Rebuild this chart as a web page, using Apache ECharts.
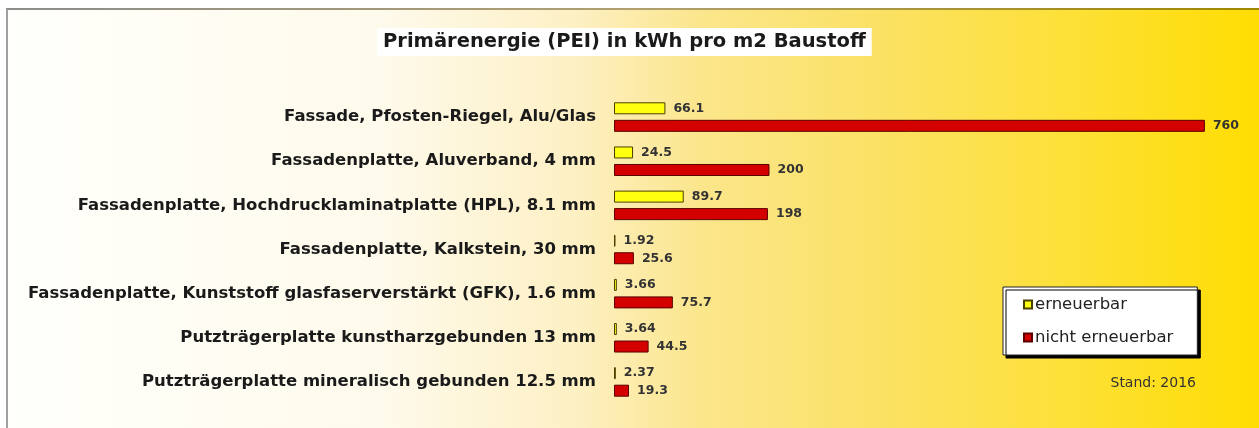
<!DOCTYPE html>
<html>
<head>
<meta charset="utf-8">
<script src="https://cdn.jsdelivr.net/npm/echarts@6/dist/echarts.min.js"></script>
<style>
html,body{margin:0;padding:0;background:#fff;}
#chart{width:1259px;height:428px;}
</style>
</head>
<body>
<div id="chart"></div>
<script>
var categories = [
  'Fassade, Pfosten-Riegel, Alu/Glas',
  'Fassadenplatte, Aluverband, 4 mm',
  'Fassadenplatte, Hochdrucklaminatplatte (HPL), 8.1 mm',
  'Fassadenplatte, Kalkstein, 30 mm',
  'Fassadenplatte, Kunststoff glasfaserverstärkt (GFK), 1.6 mm',
  'Putzträgerplatte kunstharzgebunden 13 mm',
  'Putzträgerplatte mineralisch gebunden 12.5 mm'
];
var erneuerbar = [66.1, 24.5, 89.7, 1.92, 3.66, 3.64, 2.37];
var nichtErneuerbar = [760, 200, 198, 25.6, 75.7, 44.5, 19.3];
var seriesNames = ['erneuerbar', 'nicht erneuerbar'];
var titleText = 'Primärenergie (PEI) in kWh pro m2 Baustoff';
var noteText = 'Stand: 2016';

var FONT = '"DejaVu Sans", "Liberation Sans", Arial, sans-serif';
var chart = echarts.init(document.getElementById('chart'), null, {renderer: 'canvas'});

var valueLabel = {
  show: true,
  position: 'right',
  distance: 8,
  fontFamily: FONT,
  fontWeight: 'bold',
  fontSize: 12.5,
  color: '#333'
};

chart.setOption({
  animation: false,
  backgroundColor: '#ffffff',
  title: {
    text: titleText,
    left: 377,
    top: 28,
    backgroundColor: '#ffffff',
    padding: [4, 6, 4, 6],
    textStyle: {fontFamily: FONT, fontWeight: 'bold', fontSize: 19.5, color: '#1a1a1a'}
  },
  legend: {
    orient: 'vertical',
    left: 1003,
    top: 287,
    data: seriesNames,
    icon: 'rect',
    itemWidth: 8,
    itemHeight: 8,
    itemGap: 16,
    padding: [9, 24, 9, 20],
    backgroundColor: '#ffffff',
    borderColor: '#222',
    borderWidth: 1,
    shadowColor: '#000',
    shadowOffsetX: 3,
    shadowOffsetY: 3,
    shadowBlur: 0,
    textStyle: {fontFamily: FONT, fontSize: 16.5, color: '#222', padding: [0, 0, 0, -2]}
  },
  graphic: [
    {
      type: 'rect', z: -10, silent: true,
      shape: {x: 7, y: 9, width: 1260, height: 430},
      style: {
        fill: new echarts.graphic.LinearGradient(0, 0, 1, 0, [
          {offset: 0, color: '#fffffb'},
          {offset: 0.3, color: '#fefaeb'},
          {offset: 0.45, color: '#fdf0c4'},
          {offset: 0.55, color: '#fbe68c'},
          {offset: 0.7, color: '#fbe162'},
          {offset: 0.85, color: '#fde035'},
          {offset: 1, color: '#ffdd00'}
        ])
      }
    },
    {
      type: 'line', z: -9, silent: true,
      shape: {x1: 6, y1: 9, x2: 1259, y2: 9},
      style: {
        lineWidth: 2,
        stroke: new echarts.graphic.LinearGradient(0, 0, 1, 0, [
          {offset: 0, color: '#8c8c8c'},
          {offset: 0.5, color: '#b0a070'},
          {offset: 1, color: '#a08800'}
        ])
      }
    },
    {
      type: 'line', z: -9, silent: true,
      shape: {x1: 7, y1: 9, x2: 7, y2: 428},
      style: {lineWidth: 2, stroke: '#a0a0a0'}
    },
    {
      type: 'text', silent: true,
      right: 63, top: 376,
      style: {text: noteText, fontFamily: FONT, fontSize: 14, fill: '#333'}
    }
  ],
  grid: {left: 614, right: 23, top: 95, bottom: 24, containLabel: false},
  xAxis: {
    type: 'value', min: 0, max: 800, show: false
  },
  yAxis: {
    type: 'category',
    data: categories,
    inverse: true,
    axisLine: {show: false},
    axisTick: {show: false},
    splitLine: {show: false},
    axisLabel: {
      margin: 18,
      fontFamily: FONT,
      fontWeight: 'bold',
      fontSize: 16.5,
      color: '#1a1a1a'
    }
  },
  series: [
    {
      name: seriesNames[0],
      type: 'bar',
      data: erneuerbar,
      barWidth: 12,
      barGap: '46%',
      itemStyle: {color: '#ffff10', borderColor: '#4a4000', borderWidth: 1},
      label: valueLabel
    },
    {
      name: seriesNames[1],
      type: 'bar',
      data: nichtErneuerbar,
      barWidth: 12,
      itemStyle: {color: '#d40000', borderColor: '#5a0000', borderWidth: 1},
      label: valueLabel
    }
  ]
});
</script>
</body>
</html>
